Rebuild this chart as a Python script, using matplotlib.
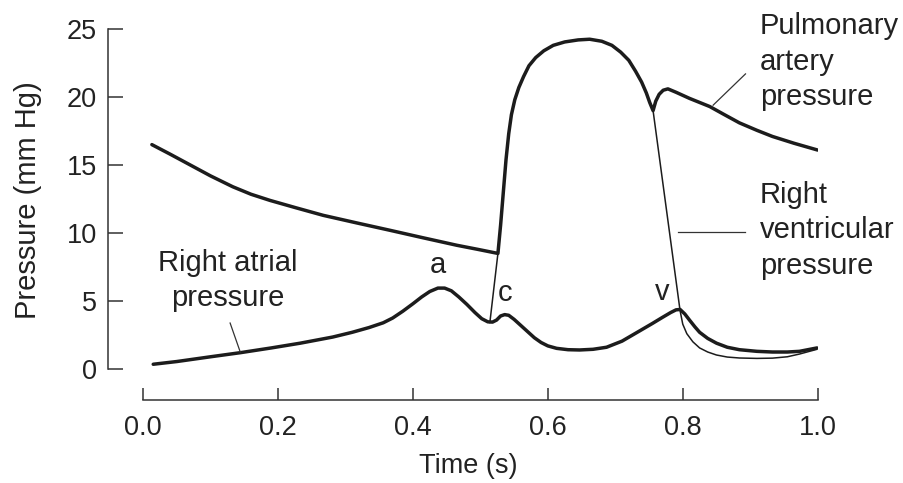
# right heart pressures over one cardiac cycle

import matplotlib
matplotlib.use('Agg')
import matplotlib.pyplot as plt

plt.rcParams['font.family'] = ['Liberation Sans', 'DejaVu Sans']

# pulmonary artery pressure before ejection
pa_fill_time = [0.013, 0.04, 0.07, 0.10, 0.133, 0.16, 0.188, 0.227, 0.267, 0.316,
                0.366, 0.415, 0.465, 0.496, 0.526]
pa_fill_press = [16.5, 15.8, 15.0, 14.2, 13.4, 12.85, 12.4, 11.85, 11.3, 10.75,
                 10.2, 9.65, 9.1, 8.8, 8.5]

# ejection dome (ventricle and artery together)
dome_time = [0.526, 0.530, 0.534, 0.538, 0.542, 0.546, 0.551, 0.557, 0.564, 0.572,
             0.582, 0.594, 0.608, 0.625, 0.645, 0.662, 0.680, 0.695, 0.708, 0.720,
             0.730, 0.739, 0.746, 0.751, 0.756]
dome_press = [8.5, 10.6, 13.0, 15.4, 17.3, 18.7, 19.8, 20.7, 21.5, 22.3,
              22.9, 23.4, 23.8, 24.05, 24.2, 24.25, 24.1, 23.8, 23.3, 22.7,
              21.9, 21.1, 20.3, 19.6, 19.0]

# pulmonary artery pressure after the notch
pa_late_time = [0.756, 0.760, 0.765, 0.771, 0.778, 0.79, 0.81, 0.84, 0.86, 0.884,
                0.91, 0.933, 0.965, 1.0]
pa_late_press = [19.0, 19.7, 20.2, 20.5, 20.6, 20.35, 19.9, 19.3, 18.75, 18.1,
                 17.55, 17.1, 16.6, 16.1]

# right ventricular pressure (thin), rise and fall
rv_rise_time = [0.514, 0.526]
rv_rise_press = [3.4, 8.5]
rv_fall_time = [0.756, 0.796, 0.800, 0.806, 0.815, 0.825, 0.837, 0.85, 0.866, 0.884,
                0.91, 0.933, 0.955, 0.973, 0.999]
rv_fall_press = [19.0, 4.3, 3.3, 2.6, 2.0, 1.55, 1.25, 1.03, 0.88, 0.81,
                 0.78, 0.8, 0.9, 1.1, 1.45]

# right atrial pressure
ra_time = [0.015, 0.05, 0.10, 0.144, 0.19, 0.233, 0.281, 0.31, 0.335, 0.356,
           0.37, 0.385, 0.40, 0.413, 0.425, 0.437, 0.447, 0.457, 0.468, 0.48,
           0.492, 0.502, 0.511, 0.518, 0.524, 0.530, 0.536, 0.542, 0.55, 0.56,
           0.57, 0.58, 0.59, 0.60, 0.613, 0.63, 0.647, 0.667, 0.687, 0.71,
           0.736, 0.755, 0.77, 0.782, 0.79, 0.796, 0.803, 0.81, 0.818, 0.825,
           0.837, 0.85, 0.866, 0.884, 0.91, 0.933, 0.955, 0.973, 0.999]
ra_press = [0.35, 0.55, 0.9, 1.2, 1.55, 1.9, 2.35, 2.7, 3.05, 3.4,
            3.75, 4.25, 4.8, 5.3, 5.7, 5.95, 5.95, 5.75, 5.3, 4.75,
            4.15, 3.7, 3.47, 3.45, 3.6, 3.9, 4.0, 3.95, 3.65, 3.2,
            2.75, 2.3, 1.95, 1.7, 1.52, 1.42, 1.4, 1.45, 1.6, 2.05,
            2.8, 3.35, 3.8, 4.15, 4.35, 4.38, 4.05, 3.6, 3.1, 2.7,
            2.25, 1.9, 1.6, 1.42, 1.3, 1.25, 1.25, 1.3, 1.55]

x_ticks = [0.0, 0.2, 0.4, 0.6, 0.8, 1.0]
y_ticks = [0, 5, 10, 15, 20, 25]

ink = '#1c1c1c'
textcol = '#222222'
fontsize = 19.5
notesize = 21

fig = plt.figure(figsize=(9.04, 4.83), dpi=100)
ax = fig.add_axes([0.1195, 0.1718, 0.785, 0.7681])

thick_t = pa_fill_time + dome_time[1:] + pa_late_time[1:]
thick_p = pa_fill_press + dome_press[1:] + pa_late_press[1:]
thin_t = rv_rise_time + dome_time[1:] + rv_fall_time[1:]
thin_p = rv_rise_press + dome_press[1:] + rv_fall_press[1:]

ax.plot(thin_t, thin_p, color=ink, lw=1.1, solid_capstyle='round', solid_joinstyle='round')
ax.plot(thick_t, thick_p, color=ink, lw=2.5, solid_capstyle='round', solid_joinstyle='round')
ax.plot(ra_time, ra_press, color=ink, lw=2.5, solid_capstyle='round', solid_joinstyle='round')

ax.set_xlim(-0.052, 1.0)
ax.set_ylim(-2.28, 25)

# detached axis lines
for side in ['top', 'right']:
    ax.spines[side].set_visible(False)
ax.spines['left'].set_bounds(0, 25)
ax.spines['bottom'].set_bounds(0, 1)
for side in ['left', 'bottom']:
    ax.spines[side].set_linewidth(1.1)
    ax.spines[side].set_color('#333333')

ax.set_xticks(x_ticks)
ax.set_xticklabels(['%.1f' % v for v in x_ticks])
ax.set_yticks(y_ticks)
ax.tick_params(axis='y', direction='in', length=11, width=1.1, color='#333333',
               pad=8, labelsize=fontsize, labelcolor=textcol)
ax.tick_params(axis='x', direction='in', length=9, width=1.1, color='#333333',
               pad=11, labelsize=fontsize, labelcolor=textcol)

ax.set_ylabel('Pressure (mm Hg)', fontsize=21, color=textcol, va='center')
ax.yaxis.set_label_coords(-0.113, 0.54)
ax.set_xlabel('Time (s)', fontsize=fontsize, color=textcol, va='center')
ax.xaxis.set_label_coords(0.508, -0.178)

# curve names with leader lines
ax.text(0.914, 22.6, 'Pulmonary\nartery\npressure', fontsize=notesize, color=textcol,
        ha='left', va='center', linespacing=1.33, clip_on=False)
ax.plot([0.845, 0.893], [19.4, 21.7], color='#333333', lw=0.9, clip_on=False)

ax.text(0.914, 10.2, 'Right\nventricular\npressure', fontsize=notesize, color=textcol,
        ha='left', va='center', linespacing=1.33, clip_on=False)
ax.plot([0.793, 0.892], [10.07, 10.07], color='#333333', lw=0.9, clip_on=False)

ax.text(0.126, 6.5, 'Right atrial\npressure', fontsize=notesize, color=textcol,
        ha='center', va='center', multialignment='center', linespacing=1.3)
ax.plot([0.129, 0.144], [3.38, 1.25], color='#333333', lw=0.9)

# wave letters
ax.text(0.437, 7.65, 'a', fontsize=notesize, color=textcol, ha='center', va='center')
ax.text(0.536, 5.6, 'c', fontsize=notesize, color=textcol, ha='center', va='center')
ax.text(0.770, 5.65, 'v', fontsize=notesize, color=textcol, ha='center', va='center')

fig.savefig('out.png', dpi=100)
